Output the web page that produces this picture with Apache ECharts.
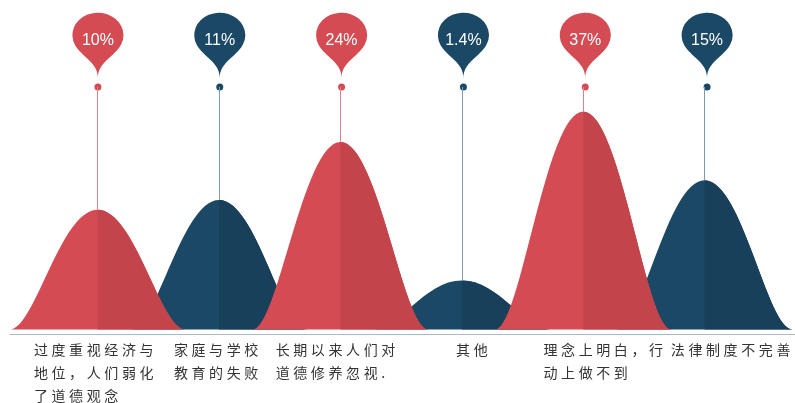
<!DOCTYPE html>
<html>
<head>
<meta charset="utf-8">
<script src="https://cdn.jsdelivr.net/npm/echarts@6/dist/echarts.min.js"></script>
<style>
  html, body { margin: 0; padding: 0; background: #ffffff; }
  #chart { width: 795px; height: 403px; }
</style>
</head>
<body>
<div id="chart"></div>
<script>
// ---- data ----
const categories = [
  '过度重视经济与\n地位，人们弱化\n了道德观念',
  '家庭与学校\n教育的失败',
  '长期以来人们对\n道德修养忽视.',
  '其他',
  '理念上明白，行\n动上做不到',
  '法律制度不完善'
];
const percentLabels = ['10%', '11%', '24%', '1.4%', '37%', '15%'];
// visual height of each bell (same units as the value axis)
const peakHeights = [122, 132, 191, 50, 222, 152];
const rowNames = ['dot', 'pin'];

// ---- styles ----
const RED = '#D44B54', RED_DARK = '#C3454B', RED_STEM = '#E08089';
const BLUE = '#1A4865', BLUE_DARK = '#19405B', BLUE_STEM = '#7F9BB0';
const AXIS_MAX = 247;
const BELL_W = 176;
const labelShiftPx = [-4, -3, -5, 10, 20, 26];   // horizontal nudge of each category label block
const bellPath = 'path://M0,100 C28.9,100 57.3,0 100,0 C142.7,0 171.1,100 200,100 Z';
const halfPath = 'path://M100,0 C142.7,0 171.1,100 200,100 L100,100 Z';
const isRed = i => i % 2 === 0;
const fontCJK = '"Noto Sans CJK SC", "Noto Sans", sans-serif';

function pick(red) {
  return peakHeights.map((h, i) => (isRed(i) === red ? h : '-'));
}
function stems(red) {
  const out = [];
  peakHeights.forEach((h, i) => {
    if (isRed(i) === red) out.push([{ coord: [i, h] }, { coord: [i, AXIS_MAX] }]);
  });
  return out;
}
function bellSeries(red, half) {
  const s = {
    type: 'pictorialBar',
    xAxisIndex: 0, yAxisIndex: 0,
    barGap: '-100%',
    symbol: half ? halfPath : bellPath,
    symbolSize: half ? [BELL_W / 2, '100%'] : [BELL_W, '100%'],
    symbolOffset: half ? [BELL_W / 4, 0] : [0, 0],
    itemStyle: { color: half ? (red ? RED_DARK : BLUE_DARK) : (red ? RED : BLUE) },
    data: pick(red),
    silent: true
  };
  if (!half) {
    s.markLine = {
      silent: true,
      symbol: ['none', 'none'],
      label: { show: false },
      lineStyle: { color: red ? RED_STEM : BLUE_STEM, width: 1, type: 'solid' },
      data: stems(red)
    };
  }
  return s;
}
// each character as its own rich token, so it can carry a little spacing
function spacedLabel(v) {
  return v.split('\n').map(line => Array.from(line).map(ch => '{c|' + ch + '}').join('')).join('\n');
}
const categoryItems = categories.map((c, i) => {
  const s = labelShiftPx[i];
  return { value: c, textStyle: { padding: s >= 0 ? [0, 0, 0, 2 * s] : [0, -2 * s, 0, 0] } };
});

const chart = echarts.init(document.getElementById('chart'), null, { renderer: 'canvas' });
chart.setOption({
  animation: false,
  backgroundColor: '#ffffff',
  grid: [
    { left: 37, right: 27, top: 87, bottom: 69 },
    { left: 37, right: 27, top: 78, height: 9 },
    { left: 10, right: 0, top: 87, bottom: 69 }
  ],
  xAxis: [
    {
      type: 'category', gridIndex: 0, data: categoryItems,
      axisLine: { show: false }, axisTick: { show: false },
      axisLabel: {
        interval: 0, margin: 9,
        formatter: spacedLabel,
        rich: { c: { align: 'left', fontSize: 14, lineHeight: 23, padding: [0, 1.8], color: '#333333', fontFamily: fontCJK } }
      }
    },
    {
      type: 'category', gridIndex: 1, data: categories, show: false
    },
    {
      type: 'value', gridIndex: 2, min: 0, max: 1,
      axisLine: { show: true, lineStyle: { color: '#A9B9C7', width: 1 } },
      axisTick: { show: false }, axisLabel: { show: false }, splitLine: { show: false }
    }
  ],
  yAxis: [
    { type: 'value', gridIndex: 0, min: 0, max: AXIS_MAX, show: false },
    { type: 'category', gridIndex: 1, data: rowNames, boundaryGap: false, show: false },
    { type: 'value', gridIndex: 2, min: 0, max: 1, show: false }
  ],
  series: [
    bellSeries(false, false),
    bellSeries(false, true),
    bellSeries(true, false),
    bellSeries(true, true),
    {
      type: 'scatter', xAxisIndex: 1, yAxisIndex: 1,
      symbol: 'circle', symbolSize: 7, silent: true,
      data: categories.map((c, i) => ({ value: [i, 'dot'], itemStyle: { color: isRed(i) ? RED : BLUE, opacity: 1 } }))
    },
    {
      type: 'scatter', xAxisIndex: 1, yAxisIndex: 1,
      symbol: 'pin', symbolSize: [85, 75], silent: true,
      label: {
        show: true, position: 'inside', offset: [0, 2],
        color: '#ffffff', fontSize: 16, fontFamily: '"Liberation Sans", Arial, sans-serif',
        formatter: p => percentLabels[p.dataIndex]
      },
      data: categories.map((c, i) => ({ value: [i, 'pin'], itemStyle: { color: isRed(i) ? RED : BLUE, opacity: 1 } }))
    }
  ]
});
</script>
</body>
</html>
